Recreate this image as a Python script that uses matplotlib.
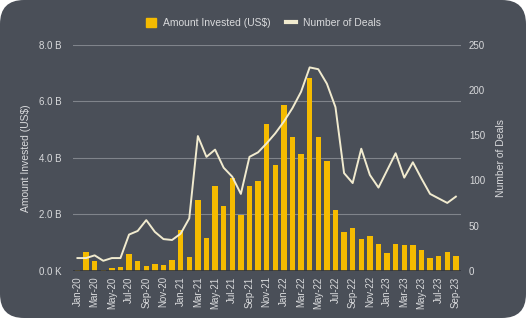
import matplotlib
matplotlib.use("Agg")
import matplotlib.pyplot as plt
from matplotlib.patches import FancyBboxPatch
from matplotlib.lines import Line2D
from matplotlib.patches import Patch
import numpy as np

plt.rcParams['font.family'] = ['Liberation Sans', 'DejaVu Sans']

months = ["Jan-20","Feb-20","Mar-20","Apr-20","May-20","Jun-20","Jul-20","Aug-20","Sep-20","Oct-20","Nov-20","Dec-20",
          "Jan-21","Feb-21","Mar-21","Apr-21","May-21","Jun-21","Jul-21","Aug-21","Sep-21","Oct-21","Nov-21","Dec-21",
          "Jan-22","Feb-22","Mar-22","Apr-22","May-22","Jun-22","Jul-22","Aug-22","Sep-22","Oct-22","Nov-22","Dec-22",
          "Jan-23","Feb-23","Mar-23","Apr-23","May-23","Jun-23","Jul-23","Aug-23","Sep-23"]
amount_b = [0.02, 0.66, 0.33, 0.02, 0.08, 0.14, 0.58, 0.33, 0.17, 0.24, 0.20, 0.39,
            1.44, 0.47, 2.50, 1.17, 3.00, 2.29, 3.29, 1.98, 3.00, 3.19, 5.21, 3.76,
            5.86, 4.72, 4.15, 6.83, 4.72, 3.88, 2.14, 1.36, 1.53, 1.14, 1.23, 0.96,
            0.61, 0.96, 0.90, 0.90, 0.73, 0.46, 0.52, 0.65, 0.52]
deals = [14, 14, 17, 11, 14, 14, 40, 44, 56, 43, 35, 34,
         41, 58, 149, 126, 134, 114, 104, 85, 126, 131, 141, 152,
         165, 180, 198, 225, 223, 207, 181, 108, 97, 135, 106, 92,
         111, 130, 103, 120, 102, 85, 80, 75, 82]
left_ticks = [0, 2, 4, 6, 8]
left_labels = ["0.0 K", "2.0 B", "4.0 B", "6.0 B", "8.0 B"]
right_ticks = [0, 50, 100, 150, 200, 250]

bg = "#4a4f58"
txt = "#d9dadc"
bar_c = "#f5bb00"
line_c = "#f1ebcf"

fig = plt.figure(figsize=(5.27, 3.2), dpi=100)
fig.patch.set_facecolor("white")
panel = FancyBboxPatch((0.0, 2.0), 526, 318, boxstyle="round,pad=0,rounding_size=24",
                       transform=None, facecolor=bg, edgecolor="none", zorder=-5)
fig.patches.append(panel)

ax = fig.add_axes([0.138, 0.154, 0.736, 0.706])
ax.set_facecolor("none")
x = np.arange(len(months))
ax.bar(x, amount_b, width=0.62, color=bar_c, zorder=3)
ax.set_ylim(0, 8)
ax.set_xlim(-0.55, len(months) - 0.45)
ax.set_yticks(left_ticks)
ax.set_yticklabels(left_labels)
ax.set_xticks(x[::2])
ax.set_xticklabels(months[::2], rotation=90)
ax.tick_params(axis='both', colors=txt, labelsize=7, length=0, pad=4)
ax.tick_params(axis='y', pad=8)
for v in left_ticks[1:]:
    ax.axhline(v, color="#80848b", lw=0.8, zorder=1)
ax.axhline(0, color="#2f333a", lw=1.2, zorder=4)
for s in ax.spines.values():
    s.set_visible(False)
ax.set_ylabel("Amount Invested (US$)", color=txt, fontsize=7.5, labelpad=6)

ax2 = ax.twinx()
ax2.plot(x, deals, color=line_c, lw=1.4, zorder=5)
ax2.set_ylim(0, 250)
ax2.set_yticks(right_ticks)
ax2.tick_params(axis='y', colors=txt, labelsize=7, length=0, pad=6)
for s in ax2.spines.values():
    s.set_visible(False)
ax2.set_ylabel("Number of Deals", color=txt, fontsize=7.5, labelpad=8)

handles = [Patch(facecolor=bar_c, edgecolor=bar_c),
           Line2D([0], [0], color=line_c, lw=3)]
fig.legend(handles, ["Amount Invested (US$)", "Number of Deals"], loc="center",
           bbox_to_anchor=(0.5, 0.928), ncol=2, frameon=False, fontsize=7.5,
           labelcolor=txt, handlelength=0.9, handleheight=0.9, columnspacing=1.5,
           handletextpad=0.7)

fig.savefig("out.png", dpi=100, facecolor="white")
